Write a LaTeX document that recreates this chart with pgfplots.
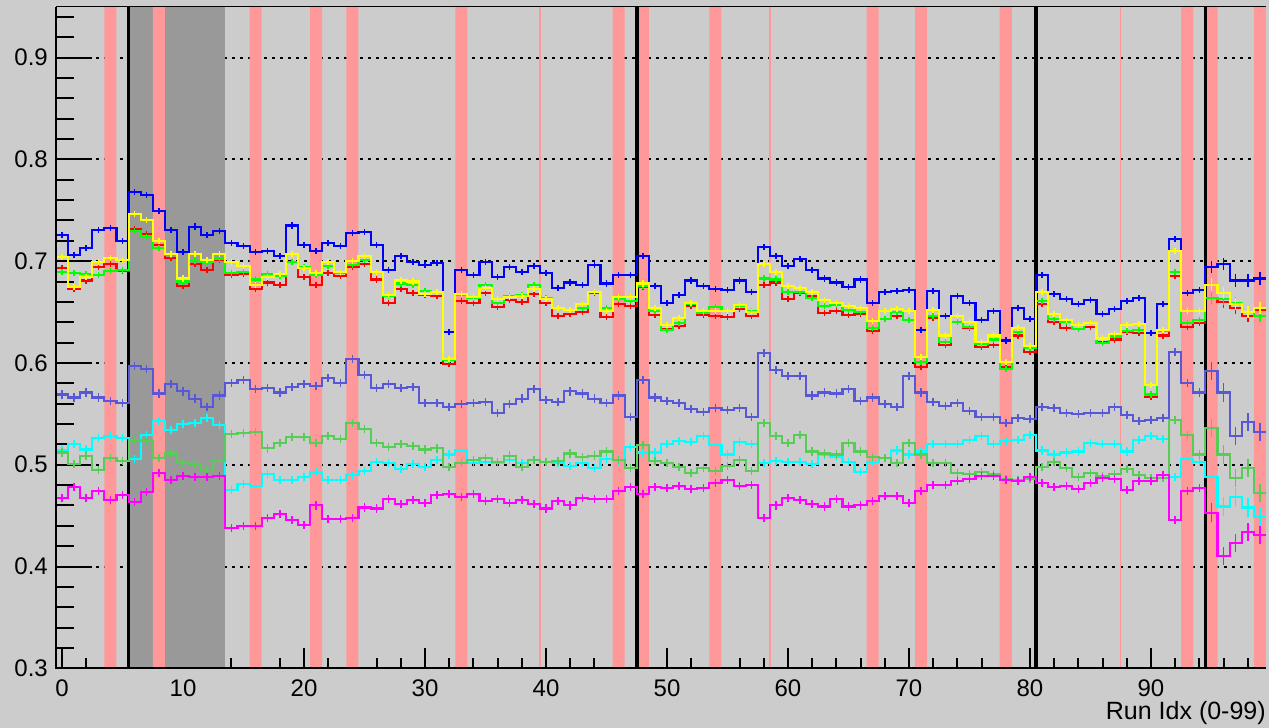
\documentclass[border=0pt]{standalone}
\usepackage{fontspec}
\setmainfont{Liberation Sans}
\usepackage{pgfplots}
\usepackage{pgfplotstable}
\pgfplotsset{compat=1.18}
\definecolor{rootgray}{RGB}{204,204,204}
\definecolor{regiongray}{RGB}{153,153,153}
\definecolor{bandred}{RGB}{255,153,153}
\definecolor{sblue}{RGB}{87,87,215}
\definecolor{mgreen}{RGB}{87,205,87}
\definecolor{cyanc}{RGB}{0,255,255}
\definecolor{yellowc}{RGB}{255,255,0}
\definecolor{greenc}{RGB}{0,255,0}
\definecolor{redc}{RGB}{255,0,0}
\definecolor{bluec}{RGB}{0,0,255}
\definecolor{magc}{RGB}{255,0,255}

\pgfplotstableread{
x b r g y s c t m eu el
-0.5 0.726 0.693 0.689 0.704 0.569 0.514 0.512 0.467 0.003 0.004
0 0.726 0.693 0.689 0.704 0.569 0.514 0.512 0.467 0.003 0.004
1 0.706 0.673 0.688 0.675 0.566 0.520 0.501 0.478 0.003 0.004
2 0.713 0.681 0.687 0.684 0.571 0.515 0.509 0.467 0.003 0.004
3 0.731 0.694 0.686 0.699 0.566 0.526 0.495 0.474 0.003 0.004
4 0.733 0.697 0.690 0.703 0.563 0.528 0.507 0.465 0.003 0.004
5 0.720 0.690 0.691 0.701 0.561 0.526 0.504 0.470 0.003 0.004
6 0.768 0.732 0.730 0.746 0.597 0.506 0.524 0.463 0.003 0.004
7 0.765 0.727 0.724 0.740 0.594 0.529 0.523 0.473 0.003 0.004
8 0.749 0.716 0.713 0.720 0.570 0.543 0.507 0.492 0.003 0.004
9 0.731 0.703 0.706 0.707 0.579 0.534 0.511 0.485 0.003 0.004
10 0.709 0.676 0.680 0.683 0.572 0.540 0.502 0.489 0.003 0.004
11 0.734 0.697 0.700 0.707 0.565 0.541 0.501 0.488 0.003 0.004
12 0.726 0.691 0.699 0.701 0.557 0.546 0.495 0.488 0.003 0.004
13 0.730 0.701 0.702 0.707 0.568 0.539 0.504 0.489 0.003 0.004
14 0.718 0.686 0.688 0.699 0.580 0.475 0.530 0.438 0.003 0.004
15 0.715 0.687 0.689 0.695 0.583 0.481 0.531 0.440 0.003 0.004
16 0.709 0.673 0.682 0.677 0.574 0.479 0.532 0.440 0.003 0.004
17 0.710 0.679 0.687 0.684 0.575 0.491 0.516 0.448 0.003 0.004
18 0.705 0.677 0.685 0.687 0.571 0.485 0.521 0.452 0.003 0.004
19 0.735 0.699 0.699 0.707 0.576 0.485 0.527 0.446 0.003 0.004
20 0.716 0.684 0.694 0.693 0.579 0.488 0.527 0.441 0.003 0.004
21 0.710 0.677 0.686 0.688 0.577 0.493 0.521 0.460 0.003 0.004
22 0.718 0.688 0.695 0.699 0.585 0.485 0.528 0.447 0.003 0.004
23 0.715 0.685 0.688 0.689 0.580 0.485 0.525 0.447 0.003 0.004
24 0.728 0.694 0.696 0.700 0.604 0.490 0.541 0.448 0.003 0.004
25 0.729 0.697 0.701 0.705 0.588 0.494 0.535 0.458 0.003 0.004
26 0.716 0.682 0.689 0.689 0.575 0.503 0.521 0.457 0.003 0.004
27 0.691 0.659 0.666 0.667 0.579 0.502 0.517 0.466 0.003 0.004
28 0.705 0.673 0.678 0.681 0.575 0.496 0.520 0.461 0.003 0.004
29 0.699 0.669 0.677 0.680 0.576 0.501 0.518 0.465 0.003 0.004
30 0.696 0.667 0.671 0.668 0.561 0.498 0.515 0.462 0.003 0.004
31 0.698 0.666 0.670 0.670 0.561 0.505 0.516 0.470 0.003 0.004
32 0.630 0.599 0.603 0.604 0.557 0.510 0.498 0.471 0.003 0.004
33 0.691 0.661 0.667 0.668 0.560 0.514 0.502 0.468 0.003 0.004
34 0.686 0.659 0.664 0.665 0.561 0.502 0.505 0.471 0.003 0.004
35 0.699 0.669 0.677 0.674 0.562 0.503 0.507 0.464 0.003 0.004
36 0.684 0.655 0.659 0.663 0.551 0.502 0.503 0.466 0.003 0.004
37 0.694 0.662 0.666 0.665 0.560 0.505 0.509 0.462 0.003 0.004
38 0.689 0.660 0.667 0.666 0.565 0.502 0.498 0.465 0.003 0.004
39 0.695 0.668 0.677 0.673 0.574 0.505 0.505 0.461 0.003 0.004
40 0.688 0.659 0.664 0.663 0.564 0.503 0.503 0.457 0.003 0.004
41 0.674 0.646 0.654 0.654 0.562 0.502 0.504 0.464 0.003 0.004
42 0.679 0.648 0.652 0.652 0.572 0.499 0.511 0.460 0.003 0.004
43 0.677 0.650 0.654 0.658 0.570 0.502 0.508 0.467 0.003 0.004
44 0.696 0.669 0.670 0.670 0.565 0.497 0.509 0.466 0.003 0.004
45 0.678 0.645 0.654 0.651 0.561 0.506 0.513 0.466 0.003 0.004
46 0.686 0.658 0.663 0.665 0.568 0.504 0.505 0.474 0.003 0.004
47 0.686 0.656 0.661 0.665 0.547 0.517 0.497 0.478 0.003 0.004
48 0.705 0.675 0.676 0.678 0.583 0.512 0.519 0.471 0.003 0.004
49 0.676 0.647 0.651 0.654 0.566 0.512 0.504 0.478 0.003 0.004
50 0.659 0.633 0.632 0.637 0.563 0.520 0.502 0.477 0.003 0.004
51 0.667 0.636 0.639 0.644 0.561 0.523 0.498 0.479 0.003 0.004
52 0.681 0.656 0.658 0.659 0.555 0.522 0.492 0.476 0.003 0.004
53 0.676 0.647 0.649 0.651 0.552 0.528 0.497 0.477 0.003 0.004
54 0.673 0.646 0.655 0.651 0.556 0.519 0.494 0.482 0.003 0.004
55 0.672 0.645 0.651 0.651 0.554 0.510 0.499 0.485 0.003 0.004
56 0.681 0.653 0.656 0.657 0.556 0.522 0.505 0.479 0.003 0.004
57 0.670 0.646 0.651 0.650 0.547 0.520 0.494 0.480 0.003 0.004
58 0.714 0.677 0.683 0.697 0.610 0.502 0.541 0.448 0.003 0.004
59 0.705 0.679 0.682 0.689 0.593 0.504 0.528 0.460 0.003 0.004
60 0.695 0.663 0.670 0.676 0.587 0.503 0.521 0.467 0.003 0.004
61 0.702 0.669 0.670 0.674 0.587 0.503 0.529 0.465 0.003 0.004
62 0.691 0.666 0.664 0.670 0.568 0.501 0.513 0.461 0.003 0.004
63 0.683 0.649 0.656 0.662 0.571 0.510 0.511 0.459 0.003 0.004
64 0.679 0.651 0.657 0.659 0.570 0.508 0.510 0.466 0.003 0.004
65 0.675 0.647 0.652 0.656 0.574 0.503 0.521 0.459 0.003 0.004
66 0.682 0.648 0.650 0.654 0.563 0.493 0.513 0.460 0.003 0.004
67 0.659 0.631 0.634 0.641 0.566 0.503 0.508 0.464 0.003 0.004
68 0.670 0.643 0.643 0.651 0.560 0.507 0.507 0.469 0.003 0.004
69 0.671 0.646 0.650 0.653 0.557 0.514 0.502 0.469 0.003 0.004
70 0.672 0.642 0.642 0.651 0.587 0.510 0.521 0.462 0.003 0.004
71 0.632 0.596 0.601 0.606 0.571 0.513 0.510 0.474 0.003 0.004
72 0.671 0.644 0.646 0.652 0.562 0.520 0.502 0.480 0.003 0.004
73 0.646 0.618 0.621 0.627 0.558 0.520 0.502 0.480 0.003 0.004
74 0.666 0.640 0.640 0.646 0.561 0.520 0.492 0.484 0.003 0.004
75 0.659 0.634 0.635 0.640 0.553 0.524 0.491 0.486 0.003 0.004
76 0.642 0.616 0.619 0.621 0.547 0.528 0.493 0.489 0.003 0.004
77 0.651 0.618 0.623 0.627 0.547 0.520 0.491 0.489 0.003 0.004
78 0.622 0.596 0.594 0.601 0.541 0.523 0.486 0.485 0.003 0.004
79 0.654 0.627 0.630 0.634 0.546 0.524 0.485 0.484 0.003 0.004
80 0.643 0.611 0.615 0.617 0.545 0.529 0.486 0.488 0.003 0.004
81 0.686 0.658 0.661 0.670 0.557 0.514 0.498 0.482 0.003 0.004
82 0.668 0.640 0.643 0.648 0.556 0.510 0.503 0.478 0.003 0.004
83 0.663 0.634 0.640 0.642 0.551 0.512 0.497 0.479 0.003 0.004
84 0.658 0.633 0.633 0.637 0.550 0.513 0.488 0.476 0.003 0.004
85 0.662 0.635 0.639 0.639 0.551 0.521 0.492 0.482 0.003 0.004
86 0.648 0.621 0.620 0.624 0.551 0.520 0.489 0.487 0.003 0.004
87 0.653 0.623 0.626 0.628 0.557 0.520 0.491 0.486 0.003 0.004
88 0.661 0.630 0.631 0.637 0.549 0.513 0.496 0.475 0.003 0.004
89 0.664 0.629 0.632 0.638 0.543 0.524 0.490 0.484 0.003 0.004
90 0.629 0.567 0.569 0.578 0.544 0.528 0.487 0.484 0.003 0.004
91 0.658 0.627 0.631 0.632 0.546 0.525 0.487 0.490 0.003 0.004
92 0.722 0.685 0.689 0.710 0.611 0.488 0.544 0.446 0.003 0.004
93 0.669 0.635 0.639 0.651 0.580 0.506 0.529 0.474 0.003 0.004
94 0.672 0.639 0.642 0.651 0.571 0.503 0.510 0.477 0.003 0.004
95 0.694 0.664 0.664 0.677 0.592 0.488 0.536 0.453 0.006 0.009
96 0.697 0.660 0.663 0.669 0.571 0.459 0.510 0.410 0.006 0.009
97 0.681 0.654 0.659 0.658 0.528 0.468 0.487 0.423 0.006 0.009
98 0.681 0.646 0.650 0.650 0.542 0.458 0.497 0.434 0.006 0.009
99 0.683 0.652 0.646 0.654 0.532 0.449 0.472 0.431 0.006 0.009
99.5 0.683 0.652 0.646 0.654 0.532 0.449 0.472 0.431 0.006 0.009
}\runs

\pgfplotsset{
  hstep/.style={const plot mark mid, line width=2.1bp, mark=none, #1},
  herr/.style={#1, only marks, mark=-, mark size=3bp, mark options={line width=1.5bp},
    restrict x to domain=0:99,
    error bars/.cd, y dir=both, y explicit, error mark=none,
    error bar style={line width=1.5bp, #1}},
}

\begin{document}
\begin{tikzpicture}
\useasboundingbox[fill=rootgray] (-56bp,-59.7bp) rectangle (1213bp,668.3bp);
\begin{axis}[
  at={(0,0)}, anchor=south west,
  scale only axis, width=1210bp, height=661.6bp,
  xmin=-0.5, xmax=99.5, ymin=0.3, ymax=0.95,
  enlargelimits=false,
  clip mode=individual,
  axis line style={draw=none},
  major tick length=0pt, minor tick length=0pt,
  xtick={0,10,20,30,40,50,60,70,80,90},
  ytick={0.3,0.4,0.5,0.6,0.7,0.8,0.9},
  ymajorgrids,
  major grid style={black, line width=2bp, dash pattern=on 2.7bp off 5.3bp},
  /pgf/number format/assume math mode=true,
  tick label style={font=\fontsize{24bp}{28bp}\selectfont, inner sep=0pt},
  xticklabel style={anchor=north, yshift=-11bp},
  yticklabel style={anchor=east, xshift=-8bp, /pgf/number format/.cd, fixed, fixed zerofill, precision=1},
  xlabel={Run Idx (0-99)},
  xlabel style={at={(axis description cs:1,0)}, anchor=base east, inner sep=0pt, yshift=-51.7bp, font=\fontsize{25bp}{30bp}\selectfont},
]
% ticks (drawn first so that bands cover them as in the reference)
\pgfplotsinvokeforeach{0,10,20,30,40,50,60,70,80,90}{\draw[line width=2bp] (axis cs:#1,0.3) -- ++(0bp,20bp);}
\pgfplotsinvokeforeach{2,4,6,8,12,14,16,18,22,24,26,28,32,34,36,38,42,44,46,48,52,54,56,58,62,64,66,68,72,74,76,78,82,84,86,88,92,94,96,98}{\draw[line width=2bp] (axis cs:#1,0.3) -- ++(0bp,10bp);}
\pgfplotsinvokeforeach{0.32,0.34,0.36,0.38,0.42,0.44,0.46,0.48,0.52,0.54,0.56,0.58,0.62,0.64,0.66,0.68,0.72,0.74,0.76,0.78,0.82,0.84,0.86,0.88,0.92,0.94}{\draw[line width=2bp] (axis cs:-0.5,#1) -- ++(18bp,0bp);}
\pgfplotsinvokeforeach{0.3,0.4,0.5,0.6,0.7,0.8,0.9}{\draw[line width=2bp] (axis cs:-0.5,#1) -- ++(36bp,0bp);}

% grey region and red bands
\addplot[ybar interval, fill=regiongray, draw=none] coordinates {(5.5,1) (13.5,0)};
\addplot[ybar interval, fill=bandred, draw=none] coordinates {
 (3.5,1) (4.5,0) (7.5,1) (8.5,0) (15.5,1) (16.5,0) (20.5,1) (21.5,0)
 (23.5,1) (24.5,0) (32.5,1) (33.5,0) (45.5,1) (46.5,0) (47.5,1) (48.5,0)
 (53.5,1) (54.5,0) (66.5,1) (67.5,0) (70.5,1) (71.5,0) (77.5,1) (78.5,0)
 (92.5,1) (93.5,0) (94.5,1) (95.5,0) (98.5,1) (99.5,0)};
\addplot[bandred, line width=1.5bp] coordinates {(39.5,0.3) (39.5,0.95)};
\addplot[bandred, line width=1.5bp] coordinates {(58.5,0.3) (58.5,0.95)};
\addplot[bandred, line width=1.5bp] coordinates {(87.5,0.3) (87.5,0.95)};
\addplot[black, line width=3.7bp] coordinates {(5.5,0.3) (5.5,0.95)};
\addplot[black, line width=3.7bp] coordinates {(47.5,0.3) (47.5,0.95)};
\addplot[black, line width=3.7bp] coordinates {(80.5,0.3) (80.5,0.95)};
\addplot[black, line width=3.7bp] coordinates {(94.5,0.3) (94.5,0.95)};

% data
\addplot[hstep=sblue] table[x=x, y=s] {\runs};
\addplot[herr=sblue] table[x=x, y=s, y error=el] {\runs};
\addplot[hstep=cyanc] table[x=x, y=c] {\runs};
\addplot[herr=cyanc] table[x=x, y=c, y error=el] {\runs};
\addplot[hstep=mgreen] table[x=x, y=t] {\runs};
\addplot[herr=mgreen] table[x=x, y=t, y error=el] {\runs};
\addplot[hstep=magc] table[x=x, y=m] {\runs};
\addplot[herr=magc] table[x=x, y=m, y error=el] {\runs};
\addplot[hstep=bluec] table[x=x, y=b] {\runs};
\addplot[herr=bluec] table[x=x, y=b, y error=eu] {\runs};
\addplot[hstep=redc] table[x=x, y=r] {\runs};
\addplot[herr=redc] table[x=x, y=r, y error=eu] {\runs};
\addplot[hstep=greenc] table[x=x, y=g] {\runs};
\addplot[herr=greenc] table[x=x, y=g, y error=eu] {\runs};
\addplot[hstep=yellowc] table[x=x, y=y] {\runs};
\addplot[herr=yellowc] table[x=x, y=y, y error=eu] {\runs};

% frame
\draw[line width=1.3bp] (rel axis cs:0,1) -- (rel axis cs:1,1);
\draw[line width=2bp] (rel axis cs:0,1) -- (rel axis cs:0,0) -- (rel axis cs:1,0);
\end{axis}
\end{tikzpicture}
\end{document}
